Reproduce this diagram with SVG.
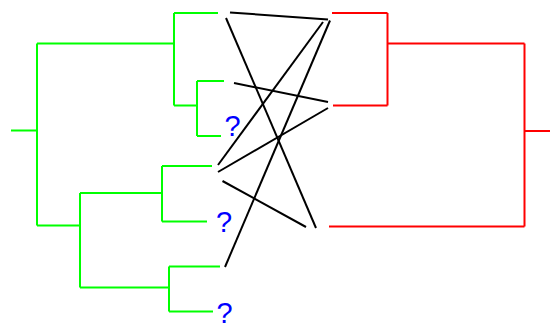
<svg xmlns="http://www.w3.org/2000/svg" width="554" height="324" viewBox="0 0 554 324">
  <style>
    .left path { fill: none; stroke: #00ff00; stroke-width: 2; }
    .right path { fill: none; stroke: #ff0000; stroke-width: 2; }
    #links line { stroke: #000000; stroke-width: 2; }
    .q { font-family: "Liberation Sans", Arial, sans-serif; font-size: 29px; fill: #0000ff; }
  </style>
  <rect width="554" height="324" fill="#ffffff"/>

  <!-- left tree -->
  <g id="left-tree" class="left">
    <g id="l-root"><path d="M11,130.5 H37 M37,43.5 V225.5"/></g>
    <g id="l-clade-a"><path d="M37,43.5 H174 M174,13 V105.5"/></g>
    <g id="l-leaf-1"><path d="M174,13 H218"/></g>
    <g id="l-clade-b"><path d="M174,105.5 H197 M197,81 V136"/></g>
    <g id="l-leaf-2"><path d="M197,81 H224"/></g>
    <g id="l-leaf-3"><path d="M197,136 H221"/><text class="q" x="224.5" y="136">?</text></g>
    <g id="l-clade-c"><path d="M37,225.5 H80 M80,193 V287.5"/></g>
    <g id="l-clade-d"><path d="M80,193 H162 M162,166 V221.5"/></g>
    <g id="l-leaf-4"><path d="M162,166 H212"/></g>
    <g id="l-leaf-5"><path d="M162,221.5 H207"/><text class="q" x="216" y="231.5">?</text></g>
    <g id="l-clade-e"><path d="M80,287.5 H169 M169,266.5 V311.5"/></g>
    <g id="l-leaf-6"><path d="M169,266.5 H220"/></g>
    <g id="l-leaf-7"><path d="M169,311.5 H213"/><text class="q" x="216.5" y="323">?</text></g>
  </g>

  <!-- right tree -->
  <g id="right-tree" class="right">
    <g id="r-root"><path d="M550,131 H524.5 M524.5,43.5 V226.5"/></g>
    <g id="r-clade-a"><path d="M524.5,43.5 H387.5 M387.5,13 V105.5"/></g>
    <g id="r-leaf-1"><path d="M387.5,13 H332"/></g>
    <g id="r-leaf-2"><path d="M387.5,105.5 H333"/></g>
    <g id="r-leaf-3"><path d="M524.5,226.5 H329"/></g>
  </g>

  <!-- connectors -->
  <g id="links">
    <line x1="230" y1="12.5" x2="328" y2="19.5"/>
    <line x1="226" y1="18" x2="316" y2="228"/>
    <line x1="234" y1="83" x2="328" y2="102"/>
    <line x1="218" y1="165" x2="323" y2="22"/>
    <line x1="218" y1="172" x2="328" y2="108"/>
    <line x1="222.5" y1="181" x2="306" y2="227"/>
    <line x1="225" y1="267" x2="330" y2="20.5"/>
  </g>
</svg>
